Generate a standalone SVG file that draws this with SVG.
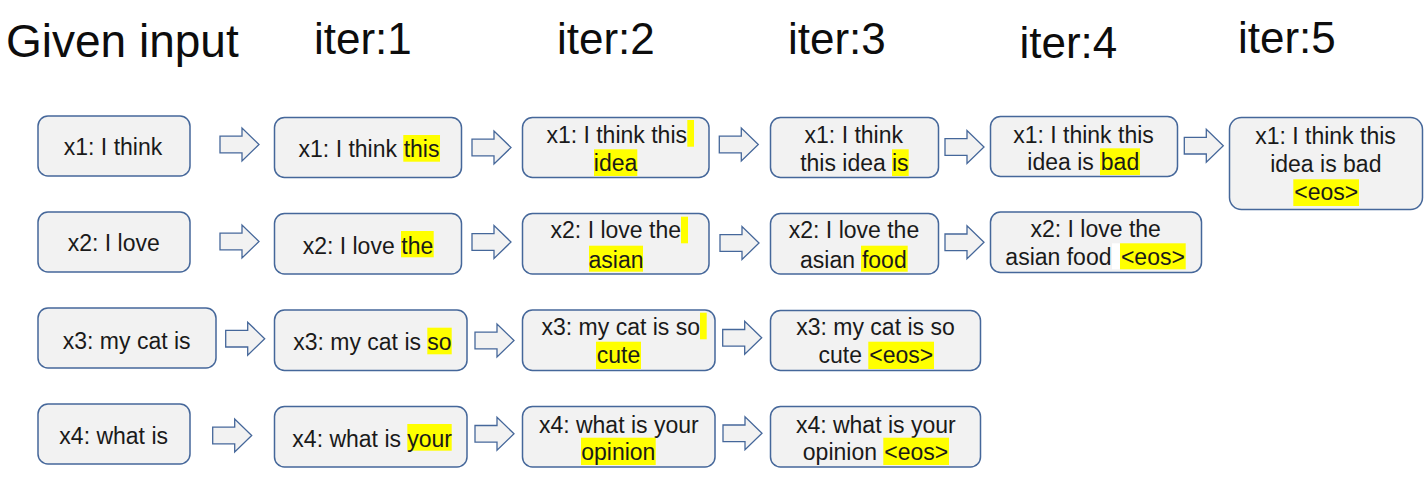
<svg xmlns="http://www.w3.org/2000/svg" xmlns:xlink="http://www.w3.org/1999/xlink" width="1427" height="503" viewBox="0 0 1427 503">
<style>
.hd{font-family:"Liberation Sans",Arial,Helvetica,sans-serif;fill:#0d0d0d}
.box{fill:#f2f2f2;stroke:#45679a;stroke-width:1.5}
.t{font-family:"Liberation Sans",Arial,Helvetica,sans-serif;font-size:23px;fill:#1a1a1a}
.m{text-anchor:middle}
.e{text-anchor:end}
.hl{fill:#ffff00}
.arr{fill:#f2f2f2;stroke:#45679a;stroke-width:1.3}
</style>
<defs>
<polygon id="arrow" class="arr" points="0,-8.3 22,-8.3 22,-16.5 39,0 22,16.5 22,8.3 0,8.3"/>
</defs>
<rect width="1427" height="503" fill="#ffffff"/>
<g id="headers">
<text class="hd" x="6" y="56.7" font-size="46">Given input</text>
<text class="hd" x="314" y="54.3" font-size="44">iter:1</text>
<text class="hd" x="557" y="54.3" font-size="44">iter:2</text>
<text class="hd" x="788" y="54.3" font-size="44">iter:3</text>
<text class="hd" x="1019.5" y="58.3" font-size="44">iter:4</text>
<text class="hd" x="1238" y="53.3" font-size="44">iter:5</text>
</g>
<g id="connectors">
<use xlink:href="#arrow" href="#arrow" x="220" y="144.5"/>
<use xlink:href="#arrow" href="#arrow" x="472" y="147.5"/>
<use xlink:href="#arrow" href="#arrow" x="719.3" y="144.5"/>
<use xlink:href="#arrow" href="#arrow" x="945" y="147"/>
<use xlink:href="#arrow" href="#arrow" x="1184.3" y="145.7"/>
<use xlink:href="#arrow" href="#arrow" x="220" y="241.5"/>
<use xlink:href="#arrow" href="#arrow" x="472" y="242"/>
<use xlink:href="#arrow" href="#arrow" x="720" y="243"/>
<use xlink:href="#arrow" href="#arrow" x="945" y="242.3"/>
<use xlink:href="#arrow" href="#arrow" x="225.7" y="338.7"/>
<use xlink:href="#arrow" href="#arrow" x="475" y="340.5"/>
<use xlink:href="#arrow" href="#arrow" x="722.7" y="337.8"/>
<use xlink:href="#arrow" href="#arrow" x="212.7" y="435.5"/>
<use xlink:href="#arrow" href="#arrow" x="475" y="433.8"/>
<use xlink:href="#arrow" href="#arrow" x="723" y="433.3"/>
</g>
<g id="A1"><rect class="box" x="38" y="116" width="152" height="60" rx="10"/><text class="t m" x="113" y="155">x1: I think</text></g>
<g id="A2"><rect class="box" x="38" y="212" width="152" height="60" rx="10"/><text class="t m" x="113.8" y="250.5">x2: I love</text></g>
<g id="A3"><rect class="box" x="38" y="308" width="178" height="60" rx="10"/><text class="t m" x="126.7" y="348.5">x3: my cat is</text></g>
<g id="A4"><rect class="box" x="38" y="404" width="152" height="60" rx="10"/><text class="t m" x="113.7" y="444">x4: what is</text></g>

<g id="B1"><rect class="box" x="274.5" y="117.5" width="187" height="60" rx="10"/>
<text class="t e" x="397" y="157">x1: I think</text>
<rect class="hl" x="403.3" y="135" width="36.7" height="26.7"/><text class="t m" x="421.6" y="157">this</text></g>
<g id="B2"><rect class="box" x="274.5" y="213.5" width="187" height="60.5" rx="10"/>
<text class="t e" x="394.7" y="254.3">x2: I love</text>
<rect class="hl" x="401" y="231" width="32.7" height="26.3"/><text class="t m" x="417.3" y="254.3">the</text></g>
<g id="B3"><rect class="box" x="274.5" y="310" width="192.5" height="60.5" rx="10"/>
<text class="t e" x="421" y="350">x3: my cat is</text>
<rect class="hl" x="427.3" y="327.7" width="24.4" height="26.6"/><text class="t m" x="439.5" y="350">so</text></g>
<g id="B4"><rect class="box" x="274.5" y="406.5" width="192.5" height="60.5" rx="10"/>
<text class="t e" x="401" y="446.7">x4: what is</text>
<rect class="hl" x="407.3" y="424" width="44.4" height="26.7"/><text class="t m" x="429.5" y="446.7">your</text></g>

<g id="C1"><rect class="box" x="522.5" y="117.5" width="186.5" height="60" rx="10"/>
<text class="t e" x="687" y="143.3">x1: I think this</text>
<rect class="hl" x="687.3" y="120" width="6.7" height="26.7"/>
<rect class="hl" x="594" y="149.3" width="43.3" height="26.7"/><text class="t m" x="615.6" y="171">idea</text></g>
<g id="C2"><rect class="box" x="522.5" y="213.5" width="186.5" height="60.5" rx="10"/>
<text class="t e" x="681" y="238.3">x2: I love the</text>
<rect class="hl" x="681" y="216.7" width="7" height="26.6"/>
<rect class="hl" x="589" y="245.7" width="54" height="26"/><text class="t m" x="616" y="267.7">asian</text></g>
<g id="C3"><rect class="box" x="522.5" y="310" width="192.5" height="60.5" rx="10"/>
<text class="t e" x="700" y="335">x3: my cat is so</text>
<rect class="hl" x="700" y="312.7" width="6.7" height="26.6"/>
<rect class="hl" x="596" y="341.7" width="45" height="27.3"/><text class="t m" x="618.5" y="363.3">cute</text></g>
<g id="C4"><rect class="box" x="522.5" y="406.5" width="192.5" height="60.5" rx="10"/>
<text class="t m" x="618.8" y="433.3">x4: what is your</text>
<rect class="hl" x="581" y="437.7" width="74.7" height="27.3"/><text class="t m" x="618.3" y="460">opinion</text></g>

<g id="D1"><rect class="box" x="770.5" y="117.5" width="168" height="60" rx="10"/>
<text class="t m" x="853.8" y="143.3">x1: I think</text>
<text class="t e" x="885.8" y="171">this idea</text>
<rect class="hl" x="892" y="149.3" width="16.7" height="26.7"/><text class="t m" x="900.3" y="171">is</text></g>
<g id="D2"><rect class="box" x="770.5" y="213.5" width="168" height="60.5" rx="10"/>
<text class="t m" x="854" y="238.3">x2: I love the</text>
<text class="t e" x="855" y="267.7">asian</text>
<rect class="hl" x="861" y="245.7" width="46.7" height="26"/><text class="t m" x="884.3" y="267.7">food</text></g>
<g id="D3"><rect class="box" x="770.5" y="310.5" width="210" height="60" rx="10"/>
<text class="t m" x="875.5" y="335">x3: my cat is so</text>
<text class="t e" x="862" y="363.3">cute</text>
<rect class="hl" x="868.3" y="341.7" width="65.7" height="27.3"/><text class="t m" x="901.2" y="363.3">&lt;eos&gt;</text></g>
<g id="D4"><rect class="box" x="770.5" y="406.5" width="210" height="60.5" rx="10"/>
<text class="t m" x="875.8" y="433.3">x4: what is your</text>
<text class="t e" x="877" y="460">opinion</text>
<rect class="hl" x="883.3" y="437.7" width="65.7" height="27.3"/><text class="t m" x="916.2" y="460">&lt;eos&gt;</text></g>

<g id="E1"><rect class="box" x="990.5" y="116.5" width="187" height="60" rx="10"/>
<text class="t m" x="1083.5" y="142.7">x1: I think this</text>
<text class="t e" x="1093.8" y="170">idea is</text>
<rect class="hl" x="1100" y="148.3" width="40" height="26.7"/><text class="t m" x="1120" y="170">bad</text></g>
<g id="E2"><rect class="box" x="990.5" y="212" width="211" height="60.5" rx="10"/>
<text class="t m" x="1095.7" y="236.7">x2: I love the</text>
<rect x="1112" y="243.3" width="8" height="26" fill="#ffffff"/>
<text class="t e" x="1111.5" y="265">asian food</text>
<rect class="hl" x="1120" y="243.3" width="65.7" height="26"/><text class="t m" x="1152.9" y="265">&lt;eos&gt;</text></g>

<g id="F1"><rect class="box" x="1229.5" y="117.5" width="193" height="92" rx="12"/>
<text class="t m" x="1325.5" y="144">x1: I think this</text>
<text class="t m" x="1325.8" y="172.3">idea is bad</text>
<rect class="hl" x="1293.3" y="179.3" width="65.7" height="26.7"/><text class="t m" x="1326.2" y="200">&lt;eos&gt;</text></g>
</svg>
